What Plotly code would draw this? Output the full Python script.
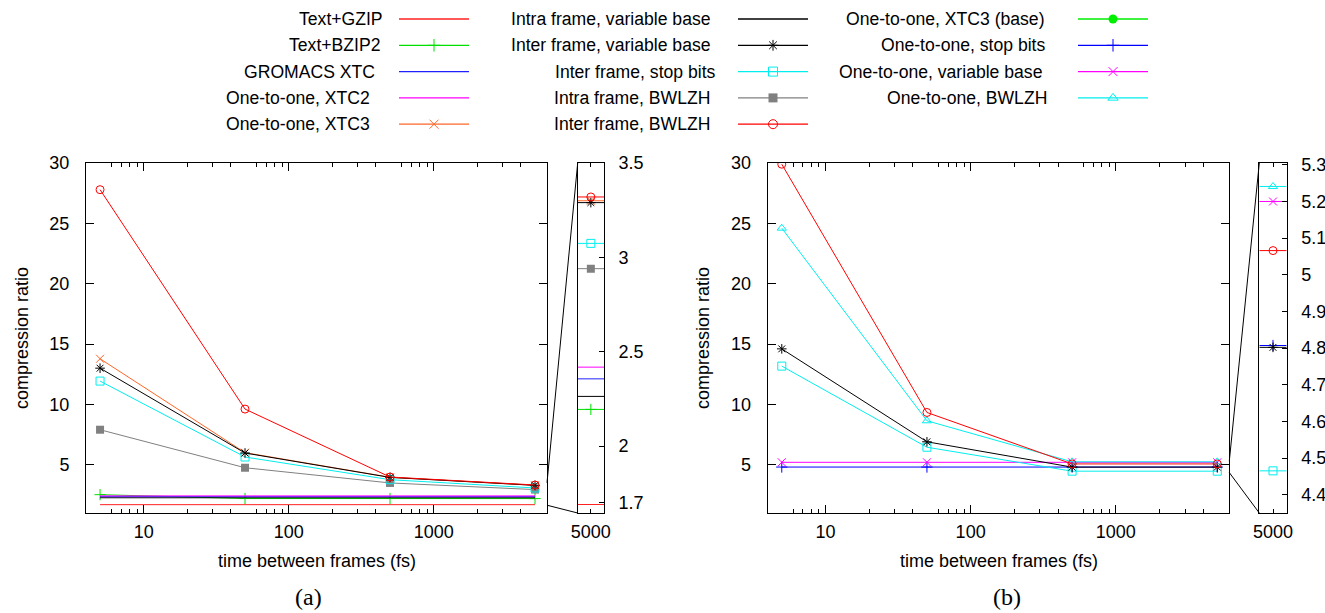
import math
import plotly.graph_objects as go

W, H = 1325, 613

# ---------------- data ----------------
time_fs = [5, 50, 500, 5000]
x_major_ticks = [10, 100, 1000]
x_minor_ticks = [4, 6, 7, 8, 9, 20, 30, 40, 60, 70, 80, 90,
                 200, 300, 400, 600, 700, 800, 900, 2000, 3000, 4000, 6000]
y_main_ticks = [5, 10, 15, 20, 25, 30]
inset_a_ticks = [1.7, 2, 2.5, 3, 3.5]
inset_b_ticks = [4.4, 4.5, 4.6, 4.7, 4.8, 4.9, 5, 5.1, 5.2, 5.3]

# panel (a)
a_text_gzip = [1.69, 1.69, 1.69, 1.69]
a_text_bzip2 = [2.52, 2.20, 2.20, 2.194]
a_gromacs_xtc = [2.356, 2.356, 2.356, 2.356]
a_o2o_xtc2 = [2.418, 2.418, 2.418, 2.418]
a_o2o_xtc3 = [13.78, 6.00, 3.96, 3.30]
a_intra_vb = [2.263, 2.263, 2.263, 2.263]
a_inter_vb = [13.0, 5.97, 3.95, 3.29]
a_inter_sb = [11.93, 5.64, 3.76, 3.074]
a_intra_bwlzh = [7.9, 4.75, 3.49, 2.94]
a_inter_bwlzh = [27.79, 9.61, 3.98, 3.32]

# panel (b)
b_inter_vb = [14.6, 6.9, 4.80, 4.802]
b_inter_sb = [13.17, 6.45, 4.465, 4.465]
b_inter_bwlzh = [29.9, 9.33, 5.066, 5.066]
b_o2o_sb = [4.807, 4.807, 4.807, 4.807]
b_o2o_vb = [5.20, 5.20, 5.20, 5.20]
b_o2o_bwlzh = [24.6, 8.64, 5.241, 5.241]

legend_names = [
    ["Text+GZIP", "Text+BZIP2", "GROMACS XTC", "One-to-one, XTC2", "One-to-one, XTC3"],
    ["Intra frame, variable base", "Inter frame, variable base", "Inter frame, stop bits",
     "Intra frame, BWLZH", "Inter frame, BWLZH"],
    ["One-to-one, XTC3 (base)", "One-to-one, stop bits", "One-to-one, variable base",
     "One-to-one, BWLZH"],
]

panel_a = [
    ("Text+GZIP", a_text_gzip, False),
    ("Text+BZIP2", a_text_bzip2, True),
    ("Intra frame, variable base", a_intra_vb, False),
    ("GROMACS XTC", a_gromacs_xtc, False),
    ("One-to-one, XTC2", a_o2o_xtc2, False),
    ("Intra frame, BWLZH", a_intra_bwlzh, True),
    ("Inter frame, stop bits", a_inter_sb, True),
    ("One-to-one, XTC3", a_o2o_xtc3, True),
    ("Inter frame, variable base", a_inter_vb, True),
    ("Inter frame, BWLZH", a_inter_bwlzh, True),
]
panel_b = [
    ("One-to-one, stop bits", b_o2o_sb, True),
    ("One-to-one, variable base", b_o2o_vb, True),
    ("Inter frame, stop bits", b_inter_sb, True),
    ("Inter frame, variable base", b_inter_vb, True),
    ("One-to-one, BWLZH", b_o2o_bwlzh, True),
    ("Inter frame, BWLZH", b_inter_bwlzh, True),
]

# ---------------- style ----------------
STYLE = {
    "Text+GZIP": ("#ff2020", None),
    "Text+BZIP2": ("#00e000", "cross-thin-open"),
    "GROMACS XTC": ("#2020ff", None),
    "One-to-one, XTC2": ("#ff00ff", None),
    "One-to-one, XTC3": ("#ff6628", "x-thin-open"),
    "Intra frame, variable base": ("#000000", None),
    "Inter frame, variable base": ("#000000", "asterisk-open"),
    "Inter frame, stop bits": ("#00eeee", "square-open"),
    "Intra frame, BWLZH": ("#808080", "square"),
    "Inter frame, BWLZH": ("#ff0000", "circle-open"),
    "One-to-one, XTC3 (base)": ("#00ee00", "circle"),
    "One-to-one, stop bits": ("#0000ff", "cross-thin-open"),
    "One-to-one, variable base": ("#ff00ff", "x-thin-open"),
    "One-to-one, BWLZH": ("#00eeee", "triangle-up-open"),
}
FONT = "Liberation Sans"
FS = 18
LEG_FS = 17.6
MS = 8

X_LO, X_HI = 4.0, 6050.0
Y_LO, Y_HI = 1.0, 30.0
INS_X_LO, INS_X_HI = 4000.0, 6250.0
INS_A = (1.645, 3.5)
INS_B = (4.35, 5.305)

YDOM = [1 - 513 / H, 1 - 163 / H]
XDOM_A = [86 / W, 547 / W]
XDOM_AI = [577.7 / W, 604 / W]
XDOM_B = [767.7 / W, 1229.3 / W]
XDOM_BI = [1259.3 / W, 1286.7 / W]

fig = go.Figure()


def marker_of(name, size=MS):
    color, sym = STYLE[name]
    if sym is None:
        return None
    filled = sym in ("square", "circle")
    return dict(symbol=sym, size=size, color=color,
                line=dict(color=color, width=1 if not filled else 0))


def add_panel(series, xa, ya, xai, yai):
    for name, vals, has_marker in series:
        color, sym = STYLE[name]
        mk = marker_of(name) if has_marker else None
        fig.add_trace(go.Scatter(
            x=time_fs, y=vals, mode="lines+markers" if mk else "lines",
            line=dict(color=color, width=1), marker=mk, xaxis=xa, yaxis=ya,
            showlegend=False, hoverinfo="skip"))
        # inset: value at last time step, line across the whole inset
        fig.add_trace(go.Scatter(
            x=[INS_X_LO, INS_X_HI], y=[vals[-1], vals[-1]], mode="lines",
            line=dict(color=color, width=1), xaxis=xai, yaxis=yai,
            showlegend=False, hoverinfo="skip"))
        if mk:
            fig.add_trace(go.Scatter(
                x=[time_fs[-1]], y=[vals[-1]], mode="markers", marker=mk,
                xaxis=xai, yaxis=yai, showlegend=False, hoverinfo="skip"))


add_panel(panel_a, "x", "y", "x2", "y2")
add_panel(panel_b, "x3", "y3", "x4", "y4")

# ---------------- legend (drawn manually, gnuplot-style) ----------------
text_right = [[385, 382, 377, 372, 372],
              [713, 713, 718, 712, 712],
              [1047, 1048, 1044, 1049]]
col_line = [(399, 469), (738, 808), (1078, 1148)]
row_y0, row_dy = 19, 26.3
annotations = []
for ci, names in enumerate(legend_names):
    lx0, lx1 = col_line[ci]
    for ri, name in enumerate(names):
        ry = row_y0 + ri * row_dy
        color, sym = STYLE[name]
        fig.add_trace(go.Scatter(x=[lx0, lx1], y=[ry, ry], mode="lines",
                                 line=dict(color=color, width=1.3), xaxis="x5", yaxis="y5",
                                 showlegend=False, hoverinfo="skip"))
        mk = marker_of(name, size=9)
        if mk:
            fig.add_trace(go.Scatter(x=[(lx0 + lx1) / 2], y=[ry], mode="markers", marker=mk,
                                     xaxis="x5", yaxis="y5", showlegend=False, hoverinfo="skip"))
        annotations.append(dict(text=name, x=text_right[ci][ri] / W, y=1 - ry / H,
                                xref="paper", yref="paper", xanchor="right", yanchor="middle",
                                showarrow=False, font=dict(family=FONT, size=LEG_FS, color="black")))

# axis titles and panel labels
for cx in [(XDOM_A[0] + XDOM_A[1]) / 2, (XDOM_B[0] + XDOM_B[1]) / 2]:
    annotations.append(dict(text="time between frames (fs)", x=cx, y=1 - 561 / H,
                            xref="paper", yref="paper", xanchor="center", yanchor="middle",
                            showarrow=False, font=dict(family=FONT, size=FS, color="black")))
for px in [22, 703]:
    annotations.append(dict(text="compression ratio", x=px / W, y=(YDOM[0] + YDOM[1]) / 2,
                            xref="paper", yref="paper", xanchor="center", yanchor="middle",
                            textangle=-90, showarrow=False,
                            font=dict(family=FONT, size=FS, color="black")))
for lbl, px in [("(a)", 308), ("(b)", 1007)]:
    annotations.append(dict(text=lbl, x=px / W, y=1 - 597 / H, xref="paper", yref="paper",
                            xanchor="center", yanchor="middle", showarrow=False,
                            font=dict(family="Liberation Serif", size=24, color="black")))


# connectors main -> inset
def ypaper(v, lo, hi):
    return YDOM[0] + (v - lo) / (hi - lo) * (YDOM[1] - YDOM[0])


shapes = []
for xd, xdi, (ilo, ihi) in [(XDOM_A, XDOM_AI, INS_A), (XDOM_B, XDOM_BI, INS_B)]:
    shapes.append(dict(type="line", xref="paper", yref="paper", x0=xd[1], x1=xdi[0],
                       y0=ypaper(ihi, Y_LO, Y_HI), y1=YDOM[1], line=dict(color="black", width=1)))
    shapes.append(dict(type="line", xref="paper", yref="paper", x0=xd[1], x1=xdi[0],
                       y0=ypaper(ilo, Y_LO, Y_HI), y1=YDOM[0], line=dict(color="black", width=1)))

tickfont = dict(family=FONT, size=FS, color="black")
base = dict(showline=True, linecolor="black", linewidth=1, showgrid=False, zeroline=False,
            automargin=False, ticks="inside", tickcolor="black", tickwidth=1, tickfont=tickfont)

main_x = dict(base, type="log", range=[math.log10(X_LO), math.log10(X_HI)],
              tickmode="array", tickvals=x_major_ticks, ticktext=[str(v) for v in x_major_ticks],
              ticklen=8, mirror="allticks", ticklabelstandoff=2,
              minor=dict(tickmode="array", tickvals=x_minor_ticks, ticks="inside",
                         ticklen=4, tickcolor="black", tickwidth=1))
main_y = dict(base, range=[Y_LO, Y_HI], tickmode="array", tickvals=y_main_ticks,
              ticklen=8, mirror="allticks", ticklabelstandoff=12)
ins_x = dict(base, type="log", range=[math.log10(INS_X_LO), math.log10(INS_X_HI)],
             tickmode="array", tickvals=[time_fs[-1]], ticktext=[str(time_fs[-1])],
             ticklen=4, mirror="allticks", ticklabelstandoff=2)
ins_y = dict(base, side="right", tickmode="array", ticklen=5, mirror=True, ticklabelstandoff=10)

fig.update_layout(
    template="none",
    width=W, height=H, margin=dict(l=0, r=0, t=0, b=0, pad=0), autosize=False,
    paper_bgcolor="white", plot_bgcolor="rgba(0,0,0,0)",
    font=dict(family=FONT, size=FS, color="black"),
    xaxis=dict(main_x, domain=XDOM_A, anchor="y"),
    yaxis=dict(main_y, domain=YDOM, anchor="x"),
    xaxis2=dict(ins_x, domain=XDOM_AI, anchor="y2"),
    yaxis2=dict(ins_y, domain=YDOM, anchor="x2", range=list(INS_A),
                tickvals=inset_a_ticks, ticktext=[str(v) for v in inset_a_ticks]),
    xaxis3=dict(main_x, domain=XDOM_B, anchor="y3"),
    yaxis3=dict(main_y, domain=YDOM, anchor="x3"),
    xaxis4=dict(ins_x, domain=XDOM_BI, anchor="y4"),
    yaxis4=dict(ins_y, domain=YDOM, anchor="x4", range=list(INS_B),
                tickvals=inset_b_ticks, ticktext=[str(v) for v in inset_b_ticks]),
    xaxis5=dict(domain=[0, 1], range=[0, W], visible=False, anchor="y5", fixedrange=True,
                automargin=False),
    yaxis5=dict(domain=[0, 1], range=[H, 0], visible=False, anchor="x5", fixedrange=True,
                automargin=False),
    annotations=annotations, shapes=shapes, showlegend=False,
)

fig.write_html("out.html", config={"displayModeBar": False},
               post_script="document.body.style.margin='0';document.body.style.overflow='hidden';")
